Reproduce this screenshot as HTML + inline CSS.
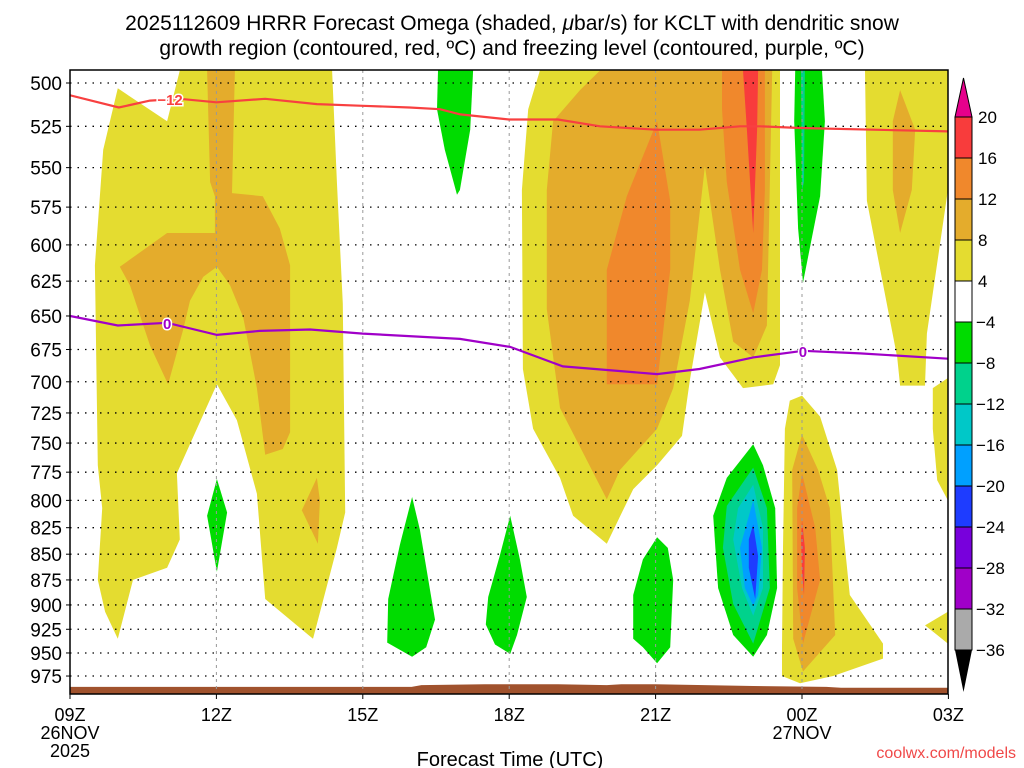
<!DOCTYPE html>
<html><head><meta charset="utf-8">
<style>
body{margin:0;background:#fff;}
svg{display:block;font-family:"Liberation Sans",sans-serif;}
</style></head>
<body>
<svg id="chart" width="1024" height="768" viewBox="0 0 1024 768">
<text x="512" y="30" font-size="21" text-anchor="middle">2025112609 HRRR Forecast Omega (shaded, <tspan font-style="italic">μ</tspan>bar/s) for KCLT with dendritic snow</text>
<text x="512" y="55" font-size="21" text-anchor="middle">growth region (contoured, red, ºC) and freezing level (contoured, purple, ºC)</text>
<defs><clipPath id="plotclip"><rect x="70" y="70" width="878" height="624"/></clipPath></defs>
<g id="fills" clip-path="url(#plotclip)"></g>
<g id="grid"></g>
<g id="lines" clip-path="url(#plotclip)"></g>
<rect x="70" y="70" width="878" height="624" fill="none" stroke="#000" stroke-width="1.5"/>
<g id="axes"></g>
<g id="cbar"></g>
<text x="510" y="766" font-size="20" text-anchor="middle">Forecast Time (UTC)</text>
<text x="1016" y="758" font-size="16" fill="#f04848" text-anchor="end">coolwx.com/models</text>
</svg>
<script>
// ---- data (hours after 09Z 26NOV, pressure hPa) ----
const pressureTicks=[500,525,550,575,600,625,650,675,700,725,750,775,800,825,850,875,900,925,950,975];
const timeTickHours=[0,3,6,9,12,15,18];
const timeTickLabels=["09Z","12Z","15Z","18Z","21Z","00Z","03Z"];
const cbarLevels=[20,16,12,8,4,-4,-8,-12,-16,-20,-24,-28,-32,-36];
const cbarColors=["#f83c3c","#f0882c","#e4ac2c","#e4dc30","#ffffff","#00dc00","#00d28c","#00c8c8","#00a0ff","#1e3cff","#7800dc","#a000c8","#aaaaaa"];
const dgzHours=[0,1,1.64,2.25,3,4,5.06,6,6.96,7.58,8,9,10,10.86,12,12.9,13.73,14.14,14.96,18];
const dgzPres=[507,514,510,509,511,509,512,513,514,515,518,521,521,525,527,527,525,525,526,528];
const frzHours=[0,0.98,1.99,3.01,3.89,4.92,6,7.99,9.02,10.1,12.03,12.9,14.0,15.02,16.19,17.99];
const frzPres=[650,657,655,664,661,660,663,667,673,688,694,690,681,676,678,682];
const sfcHours=[0,7.0,7.2,8.5,10,11,11.3,12,13,14,15.5,15.8,18];
const sfcPres=[987,987,985,984,984,985,984,984,985,986,987,988,988];
// omega contour regions: [colorIndex, [[hour,hPa],...]]
const regions=[
[3,[[2.25,493],[5.37,493],[5.47,559],[5.59,641],[5.64,811],[5.47,844],[4.98,935],[4.0,894],[3.83,794],[3.42,731],[3.01,702],[2.60,738],[2.19,776],[2.25,836],[1.99,863],[1.29,875],[0.98,935],[0.72,907],[0.57,875],[0.66,807],[0.57,769],[0.51,614],[0.68,539],[0.98,503],[1.99,522]]],
[2,[[2.81,493],[3.38,493],[3.32,566],[3.95,568],[4.30,589],[4.51,614],[4.51,741],[4.36,755],[4.0,760],[3.83,705],[3.55,651],[3.28,628],[3.01,615],[2.73,622],[2.46,639],[2.32,660],[2.01,702],[1.64,672],[1.23,628],[1.02,615],[1.99,592],[2.97,592],[2.97,568],[2.87,559]]],
[2,[[5.06,780],[5.12,800],[5.08,840],[4.75,809]]],
[5,[[3.01,781],[3.22,811],[3.01,867],[2.81,814]]],
[5,[[7.54,493],[8.26,493],[8.20,527],[7.99,564],[7.93,567],[7.68,539],[7.52,515]]],
[5,[[7.01,797],[7.17,827],[7.48,915],[7.30,944],[7.01,954],[6.50,939],[6.52,894],[6.76,841]]],
[5,[[9.02,814],[9.22,855],[9.36,892],[9.16,931],[9.02,951],[8.71,941],[8.52,920],[8.57,892],[8.81,851]]],
[3,[[9.63,493],[14.55,493],[14.55,687],[14.41,702],[13.79,705],[13.32,681],[13.01,633],[12.70,699],[12.54,744],[12.03,769],[11.54,790],[11.0,840],[10.31,814],[10.04,780],[9.49,738],[9.28,690],[9.26,564],[9.39,515]]],
[2,[[10.86,493],[14.39,493],[14.28,657],[14.0,681],[13.59,669],[13.32,617],[13.01,549],[12.70,639],[12.36,705],[12.03,738],[11.27,773],[11.0,799],[10.51,758],[10.04,721],[9.77,645],[9.77,564],[9.90,522],[10.45,504]]],
[1,[[12.03,522],[12.30,571],[12.30,617],[12.03,702],[11.0,702],[11.0,617],[11.41,568]]],
[1,[[13.36,493],[14.24,493],[14.24,564],[14.18,617],[14.0,648],[13.73,617],[13.46,559],[13.36,515]]],
[0,[[13.79,493],[14.10,493],[14.08,527],[14.0,592],[13.87,527]]],
[5,[[14.86,493],[15.41,493],[15.47,522],[15.37,568],[15.02,626],[14.92,589],[14.84,522]]],
[6,[[14.98,493],[15.06,493],[15.04,559],[15.0,564]]],
[3,[[16.29,493],[17.99,493],[17.99,564],[17.56,663],[17.52,703],[17.01,703],[16.95,681],[16.33,571]]],
[2,[[17.01,504],[17.32,527],[17.25,564],[17.01,592],[16.86,564],[16.86,522]]],
[3,[[17.68,705],[17.99,697],[17.99,800],[17.77,782],[17.68,738]]],
[3,[[17.52,921],[17.99,907],[17.99,940],[17.77,931]]],
[3,[[14.75,715],[15.0,711],[15.37,728],[15.72,773],[15.98,890],[16.66,940],[16.66,956],[15.64,975],[14.96,983],[14.59,975],[14.59,944],[14.61,844],[14.65,738]]],
[2,[[15.0,743],[15.33,773],[15.57,807],[15.68,931],[15.02,970],[14.82,935],[14.80,773]]],
[1,[[15.0,776],[15.27,825],[15.37,875],[15.02,940],[14.90,883],[14.90,807]]],
[0,[[15.0,818],[15.06,844],[15.04,890],[15.0,867],[14.98,836]]],
[5,[[14.0,751],[14.20,769],[14.45,807],[14.49,883],[14.28,931],[14.0,954],[13.59,931],[13.28,883],[13.18,814],[13.46,780]]],
[6,[[14.0,771],[14.28,807],[14.34,883],[14.0,940],[13.59,899],[13.38,844],[13.46,805]]],
[7,[[14.0,786],[14.20,825],[14.20,883],[14.0,911],[13.77,883],[13.59,836],[13.69,807]]],
[8,[[14.0,800],[14.18,844],[14.10,890],[14.0,901],[13.83,883],[13.73,844]]],
[9,[[14.0,822],[14.10,852],[14.04,894],[13.91,863],[13.91,836]]],
[5,[[12.03,834],[12.25,844],[12.36,875],[12.30,944],[12.03,961],[11.74,944],[11.54,935],[11.54,890],[11.74,855]]]
];
// ---- axis functions ----
const X=h=>70+h*48.8;
const Y=p=>83+888*Math.log(p/500);
const NS="http://www.w3.org/2000/svg";
function mk(tag,attrs,parent){const e=document.createElementNS(NS,tag);for(const k in attrs)e.setAttribute(k,attrs[k]);parent.appendChild(e);return e;}
const fills=document.getElementById('fills');
regions.forEach((r,i)=>{
  const pts=r[1].map(q=>X(q[0]).toFixed(1)+","+Y(q[1]).toFixed(1)).join(" ");
  const el=mk('polygon',{points:pts,fill:cbarColors[r[0]]},fills);
  
  
});
// terrain
{
  let d="M"+X(sfcHours[0])+","+Y(sfcPres[0]);
  for(let i=1;i<sfcHours.length;i++) d+=" L"+X(sfcHours[i]).toFixed(1)+","+Y(sfcPres[i]).toFixed(1);
  d+=" L948,700 L70,700 Z";
  const el=mk('path',{d:d,fill:"#a0522d"},fills);
  
  
}
// grid
const grid=document.getElementById('grid');
pressureTicks.forEach(p=>{
  const el=mk('line',{x1:70,x2:948,y1:Y(p),y2:Y(p),stroke:"#000","stroke-width":1.3,"stroke-dasharray":"1.5,6"},grid);
  
  
});
timeTickHours.slice(1,-1).forEach(h=>{
  const el=mk('line',{x1:X(h),x2:X(h),y1:70,y2:694,stroke:"#999","stroke-width":1,"stroke-dasharray":"3,4"},grid);
  
  
});
// contour lines
const lines=document.getElementById('lines');
function contour(hs,ps,color,name,lbl,lh,lp){
  const d=hs.map((h,i)=>(i?"L":"M")+X(h).toFixed(1)+","+Y(ps[i]).toFixed(1)).join(" ");
  const el=mk('path',{d:d,fill:"none",stroke:color,"stroke-width":2.2},lines);
  
  
  const bg=mk('rect',{x:X(lh)-(lbl.length*5),y:Y(lp)-8,width:lbl.length*10,height:16,fill:"none"},lines);
  const t=mk('text',{x:X(lh),y:Y(lp)+6,"font-size":15,"font-weight":"bold",fill:color,"text-anchor":"middle",stroke:"#fff","stroke-width":3,"paint-order":"stroke"},lines);
  t.textContent=lbl;
  
  
}
contour(dgzHours,dgzPres,"#f84040","dgz-minus12-line","−12",2.05,509);
contour(frzHours,frzPres,"#a000c8","freezing-level-line","0",1.99,655);
contour([15.02],[676],"#a000c8","freezing-level-label2","0",15.02,676);
// axes labels
const axes=document.getElementById('axes');
pressureTicks.forEach(p=>{
  const t=mk('text',{x:62,y:Y(p)+7,"font-size":19,"text-anchor":"end"},axes);
  t.textContent=p;
  
  
  mk('line',{x1:66,x2:70,y1:Y(p),y2:Y(p),stroke:"#000"},axes);
});
timeTickHours.forEach((h,i)=>{
  const t=mk('text',{x:X(h),y:721,"font-size":18,"text-anchor":"middle"},axes);
  t.textContent=timeTickLabels[i];
  
  
  mk('line',{x1:X(h),x2:X(h),y1:694,y2:699,stroke:"#000"},axes);
});
[["26NOV",0,739],["2025",0,757],["27NOV",15,739]].forEach(a=>{
  const t=mk('text',{x:X(a[1]),y:a[2],"font-size":18,"text-anchor":"middle"},axes);
  t.textContent=a[0];
  
  
});
// colorbar
const cb=document.getElementById('cbar');
const cbx=955,cbw=17,cby=117,cbh=41;
mk('polygon',{points:`${cbx},${cby} ${cbx+cbw},${cby} ${cbx+cbw/2},${cby-39}`,fill:"#e6008c",stroke:"#000"},cb);
cbarColors.forEach((c,i)=>{
  const r=mk('rect',{x:cbx,y:cby+i*cbh,width:cbw,height:cbh,fill:c,stroke:"#000","stroke-width":1},cb);
  
  
});
const by=cby+cbarColors.length*cbh;
mk('polygon',{points:`${cbx},${by} ${cbx+cbw},${by} ${cbx+cbw/2},${by+42}`,fill:"#000"},cb);
cbarLevels.forEach((v,i)=>{
  const t=mk('text',{x:v<0?976:978,y:cby+i*cbh+6,"font-size":17},cb);
  t.textContent=v<0?"−"+(-v):String(v);
  
  
});
</script>
</body></html>
